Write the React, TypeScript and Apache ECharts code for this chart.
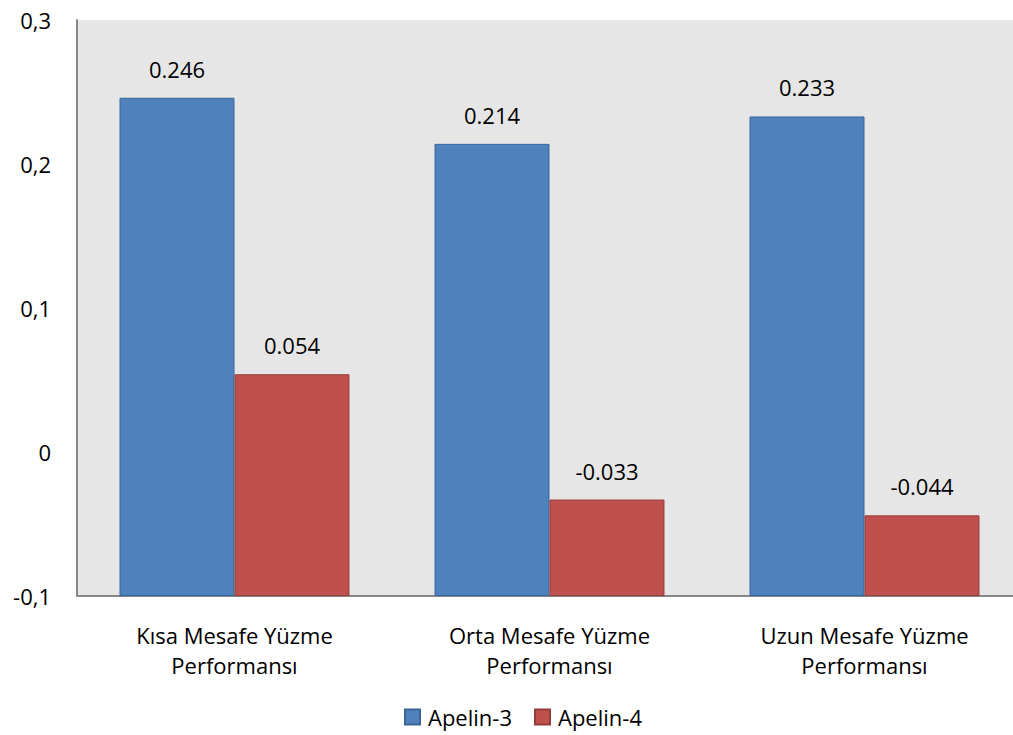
import React, { useEffect, useRef } from "react";
import * as echarts from "echarts";

const categories = [
  "Kısa Mesafe Yüzme\nPerformansı",
  "Orta Mesafe Yüzme\nPerformansı",
  "Uzun Mesafe Yüzme\nPerformansı",
];
const apelin3 = [0.246, 0.214, 0.233];
const apelin4 = [0.054, -0.033, -0.044];
const seriesNames = ["Apelin-3", "Apelin-4"];
const yMin = -0.1;
const yMax = 0.3;
const yStep = 0.1;

const FONT = "Open Sans";
const FS = 22;

export default function App() {
  const ref = useRef<HTMLDivElement>(null);
  useEffect(() => {
    if (!ref.current) return;
    const chart = echarts.init(ref.current, null, { renderer: "svg" });
    const mkSeries = (name: string, vals: number[], color: string, border: string, stack: string) => [
      {
        name: name + "-base",
        type: "bar",
        stack,
        stackStrategy: "all",
        data: vals.map(() => yMin),
        itemStyle: { color: "transparent" },
        silent: true,
        barGap: "0%",
        barCategoryGap: "27%",
      },
      {
        name,
        type: "bar",
        stack,
        stackStrategy: "all",
        data: vals.map((v) => v - yMin),
        itemStyle: { color, borderColor: border, borderWidth: 1 },
        barGap: "0%",
        barCategoryGap: "27%",
        label: {
          show: true,
          position: "top",
          distance: 18,
          fontFamily: FONT,
          fontSize: FS,
          color: "#000",
          formatter: (p: any) => vals[p.dataIndex].toFixed(3),
        },
      },
    ];
    chart.setOption({
      animation: false,
      textStyle: { fontFamily: FONT },
      grid: { left: 77, top: 20, right: 0, bottom: 139, show: true, backgroundColor: "#E6E6E6", borderWidth: 0 },
      legend: {
        data: seriesNames,
        bottom: 2,
        left: 399,
        itemWidth: 15,
        itemHeight: 15,
        itemGap: 22,
        icon: "rect",
        textStyle: { fontFamily: FONT, fontSize: FS, color: "#000", padding: [0, 0, 0, 3] },
      },
      xAxis: {
        type: "category",
        data: categories,
        axisLine: { onZero: false, lineStyle: { color: "#878787", width: 2 } },
        axisTick: { show: false },
        axisLabel: { fontFamily: FONT, fontSize: FS, color: "#000", lineHeight: 30, margin: 24 },
      },
      yAxis: {
        type: "value",
        min: yMin,
        max: yMax,
        interval: yStep,
        axisLine: { show: true, lineStyle: { color: "#878787", width: 2 } },
        axisTick: { show: false },
        splitLine: { show: false },
        axisLabel: {
          fontFamily: FONT,
          fontSize: FS,
          color: "#000",
          margin: 26,
          formatter: (v: number) => (Math.abs(v) < 1e-9 ? "0" : (Math.round(v * 10) / 10).toFixed(1).replace(".", ",")),
        },
      },
      series: [
        ...mkSeries(seriesNames[0], apelin3, "#4F81BD", "#3A659A", "a"),
        ...mkSeries(seriesNames[1], apelin4, "#C0504D", "#943D3A", "b"),
      ],
    });
    return () => chart.dispose();
  }, []);
  return (
    <div style={{ position: "fixed", left: 0, top: 0, width: 1013, height: 735, overflow: "hidden", background: "#fff" }}>
      <div ref={ref} style={{ width: 1022, height: 735 }} />
    </div>
  );
}
